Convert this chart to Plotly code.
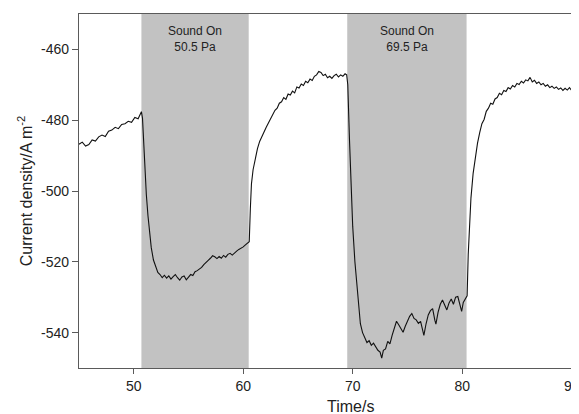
import plotly.graph_objects as go

# ---- data ----
time_s = [
    45.0, 45.3, 45.6, 45.9, 46.2, 46.5, 46.8, 47.1, 47.4, 47.7, 48.0, 48.3, 48.6, 48.9,
    49.2, 49.5, 49.8, 50.1, 50.4, 50.6, 50.7, 50.8, 50.9, 51.0, 51.15, 51.3, 51.45, 51.6,
    51.8, 52.0, 52.2, 52.4, 52.6, 52.8, 53.0, 53.2, 53.4, 53.6, 53.8, 54.0, 54.2, 54.4,
    54.6, 54.8, 55.0, 55.2, 55.4, 55.6, 55.8, 56.0, 56.2, 56.4, 56.6, 56.8, 57.0, 57.2,
    57.4, 57.6, 57.8, 58.0, 58.2, 58.4, 58.6, 58.8, 59.0, 59.2, 59.4, 59.6, 59.8, 60.0,
    60.2, 60.4, 60.55, 60.65, 60.75, 60.9, 61.1, 61.3, 61.5, 61.7, 61.9, 62.1, 62.3, 62.5,
    62.7, 62.9, 63.1, 63.3, 63.5, 63.7, 63.9, 64.1, 64.3, 64.5, 64.7, 64.9, 65.1, 65.3,
    65.5, 65.7, 65.9, 66.1, 66.3, 66.5, 66.7, 66.9, 67.1, 67.3, 67.5, 67.7, 67.9, 68.1,
    68.3, 68.5, 68.7, 68.9, 69.1, 69.3, 69.45, 69.55, 69.7, 69.85, 70.0, 70.2, 70.4, 70.55,
    70.7, 70.9, 71.1, 71.3, 71.5, 71.7, 71.9, 72.1, 72.3, 72.5, 72.65, 72.8, 73.0, 73.2,
    73.4, 73.6, 73.8, 74.0, 74.2, 74.4, 74.6, 74.8, 75.0, 75.2, 75.4, 75.6, 75.8, 76.0,
    76.2, 76.4, 76.5, 76.7, 76.9, 77.1, 77.3, 77.5, 77.6, 77.8, 78.0, 78.2, 78.4, 78.6,
    78.8, 79.0, 79.2, 79.4, 79.6, 79.8, 79.95, 80.1, 80.3, 80.45, 80.55, 80.65, 80.8, 81.0,
    81.2, 81.4, 81.6, 81.8, 82.0, 82.2, 82.4, 82.6, 82.8, 83.0, 83.2, 83.4, 83.6, 83.8,
    84.0, 84.2, 84.4, 84.6, 84.8, 85.0, 85.2, 85.4, 85.6, 85.8, 86.0, 86.2, 86.4, 86.6,
    86.8, 87.0, 87.2, 87.4, 87.6, 87.8, 88.0, 88.2, 88.4, 88.6, 88.8, 89.0, 89.2, 89.4,
    89.6, 89.8, 90.0,
]
current_density = [
    -486.8, -486.2, -487.3, -486.9, -485.6, -485.9, -484.7, -484.2, -484.6, -483.1, -482.8, -482.0, -482.4, -481.2,
    -481.0, -480.3, -480.6, -479.2, -479.6, -478.1, -477.6, -479.5, -486.0, -494.0, -501.0, -507.0, -512.0, -516.0,
    -519.5, -521.5, -523.0, -523.6, -524.5, -523.8, -524.6, -524.0, -524.9, -524.2, -523.6, -524.5, -525.2, -524.3,
    -524.0, -525.1, -524.4, -523.6, -523.9, -522.8, -522.5, -522.0, -521.6, -520.8, -520.3, -519.6, -519.0, -518.3,
    -518.6, -519.1, -518.5, -519.0, -518.2, -518.7, -517.9, -517.6, -518.1, -517.4, -517.0, -516.5, -516.2, -515.8,
    -515.2, -514.7, -514.3, -505.0, -498.0, -494.0, -490.5, -488.0, -486.0, -484.5, -483.5, -482.0, -480.8, -479.5,
    -478.6, -477.2, -476.6, -475.2, -474.8, -473.6, -474.1, -472.6, -472.9, -471.8, -472.3, -470.6, -470.9, -469.8,
    -470.2, -469.0, -469.4, -468.4, -468.8, -467.6, -467.2, -466.2, -466.5, -467.4, -467.0, -468.0, -467.6, -468.2,
    -467.4, -467.0, -467.8, -467.2, -467.6, -466.9, -467.2, -470.0, -485.0, -499.0, -510.0, -520.0, -527.0, -533.0,
    -537.5, -540.0, -541.5, -542.8, -542.3, -543.6, -543.0, -544.2, -545.0, -545.5, -547.2, -545.0, -544.6, -542.5,
    -543.2, -540.8, -539.0, -536.8, -537.8, -538.9, -539.9, -538.2, -536.6, -535.4, -534.6, -536.0, -536.4, -537.4,
    -536.8, -539.5, -540.8, -537.5, -535.0, -533.8, -533.2, -536.5, -537.6, -534.2, -532.0, -530.8, -532.4, -533.6,
    -531.6, -530.5, -532.0, -530.0, -529.8, -532.5, -534.0, -531.5, -530.2, -529.6, -518.0, -510.0, -502.0, -495.0,
    -490.0, -486.5, -483.5, -481.0, -479.8, -477.5, -476.6, -475.2, -475.5, -474.0, -473.6, -472.4, -472.8, -471.6,
    -471.9, -470.8, -471.2, -470.2, -470.6, -469.6, -469.9, -469.0, -469.5, -468.6, -468.9, -467.9, -469.2, -468.7,
    -469.6, -469.2, -470.0, -469.6, -470.4, -470.0, -470.8, -470.4, -471.0, -470.6, -471.3, -470.9, -471.6, -471.0,
    -471.5, -470.8, -471.6,
]

sound_on_start = [50.7, 69.5]
sound_on_end = [60.5, 80.4]
sound_labels = ["Sound On<br>50.5 Pa", "Sound On<br>69.5 Pa"]

x_tick_vals = [50, 60, 70, 80, 90]
x_tick_text = ["50", "60", "70", "80", "90"]
y_tick_vals = [-540, -520, -500, -480, -460]
y_tick_text = ["-540", "-520", "-500", "-480", "-460"]

FONT = "Liberation Sans, Arial, sans-serif"
AXIS_COLOR = "#5a5a5a"

fig = go.Figure()
fig.add_trace(go.Scatter(
    x=time_s, y=current_density, mode="lines",
    line=dict(color="#111111", width=1.1), showlegend=False,
))

for s, e, lab in zip(sound_on_start, sound_on_end, sound_labels):
    fig.add_shape(type="rect", xref="x", yref="paper", x0=s, x1=e, y0=0, y1=1,
                  fillcolor="#c2c2c2", line=dict(width=0), layer="below")
    fig.add_annotation(x=(s + e) / 2, y=-457, xref="x", yref="y", text=lab,
                       showarrow=False, font=dict(family=FONT, size=12, color="#222222"),
                       align="center", yanchor="middle")

fig.add_annotation(x=0.55, y=-0.11, xref="paper", yref="paper", text="Time/s",
                   showarrow=False, font=dict(family=FONT, size=16, color="#222222"),
                   yanchor="middle", xanchor="center")

fig.update_xaxes(range=[45, 90.03], tickvals=x_tick_vals, ticktext=x_tick_text,
                 ticks="outside", ticklen=5, tickcolor=AXIS_COLOR, showgrid=False,
                 zeroline=False, showline=True, linecolor=AXIS_COLOR, linewidth=1.2,
                 mirror=True, ticklabeloverflow="allow", automargin=False,
                 tickfont=dict(family=FONT, size=14, color="#222222"))
fig.update_yaxes(range=[-550, -450], tickvals=y_tick_vals, ticktext=y_tick_text,
                 ticks="outside", ticklen=6, tickcolor=AXIS_COLOR, showgrid=False,
                 zeroline=False, showline=True, linecolor=AXIS_COLOR, linewidth=1.2,
                 mirror=True, automargin=False,
                 tickfont=dict(family=FONT, size=14, color="#222222"),
                 title=dict(text="Current density/A m<sup>-2</sup>", standoff=4,
                            font=dict(family=FONT, size=16, color="#222222")))

# page body adds an 8px margin, so the figure is sized/margined to land on the reference pixels
fig.update_layout(width=571, height=406, margin=dict(l=71, r=7, t=6, b=46),
                  paper_bgcolor="white", plot_bgcolor="white")

fig.write_html("out.html")
